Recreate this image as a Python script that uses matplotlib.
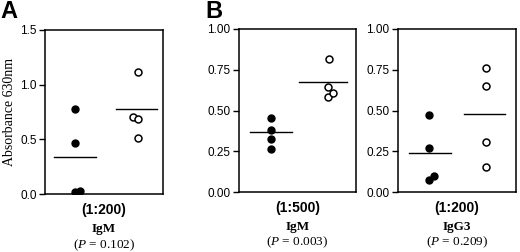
import matplotlib
matplotlib.use('Agg')
import matplotlib.pyplot as plt

# panel A: IgM 1:200
a_black_y = [0.774, 0.466, 0.015, 0.027]
a_black_x = [0.254, 0.254, 0.254, 0.297]
a_open_y = [1.12, 0.70, 0.686, 0.51]
a_open_x = [0.785, 0.743, 0.791, 0.788]
a_means = [0.338, 0.774]

# panel B left: IgM 1:500
b1_black_y = [0.454, 0.383, 0.327, 0.266]
b1_black_x = [0.27, 0.27, 0.27, 0.27]
b1_open_y = [0.816, 0.644, 0.585, 0.605]
b1_open_x = [0.767, 0.764, 0.764, 0.806]
b1_means = [0.366, 0.677]

# panel B right: IgG3 1:200
b2_black_y = [0.47, 0.27, 0.074, 0.098]
b2_black_x = [0.263, 0.263, 0.263, 0.308]
b2_open_y = [0.76, 0.648, 0.307, 0.151]
b2_open_x = [0.75, 0.75, 0.75, 0.75]
b2_means = [0.237, 0.476]

sans = 'Liberation Sans'
serif = 'Liberation Serif'

plt.rcParams['mathtext.fontset'] = 'custom'
plt.rcParams['mathtext.it'] = 'Liberation Serif:italic'
plt.rcParams['mathtext.rm'] = 'Liberation Serif'

fig = plt.figure(figsize=(5.2, 2.52), dpi=100)

def panel(rect, bx, by, ox, oy, means, mlines, ylim, yticks, ylabels,
          dil, ig, p):
    ax = fig.add_axes(rect)
    ax.plot(bx, by, 'o', color='black', ms=5, mec='black')
    ax.plot(ox, oy, 'o', color='white', ms=5, mec='black', mew=1.1)
    for m, (x0, x1) in zip(means, mlines):
        ax.plot([x0, x1], [m, m], color='black', lw=1)
    ax.set_xlim(0, 1)
    ax.set_ylim(*ylim)
    ax.set_xticks([])
    ax.set_yticks(yticks)
    ax.set_yticklabels(ylabels, fontfamily=sans, fontsize=8.5)
    ax.tick_params(axis='y', length=4, width=1, pad=2)
    for s in ax.spines.values():
        s.set_linewidth(1.1)
    ax.text(0.5, -0.1, dil, transform=ax.transAxes, ha='center', va='center',
            fontfamily=sans, fontweight='bold', fontsize=10)
    ax.text(0.5, -0.215, ig, transform=ax.transAxes, ha='center', va='center',
            fontfamily=serif, fontweight='bold', fontsize=9.5)
    ax.text(0.5, -0.31, r'($\mathit{P}$ = %s)' % p, transform=ax.transAxes,
            ha='center', va='center', fontfamily=serif, fontsize=9.5)
    return ax

axA = panel([0.0865, 0.230, 0.227, 0.651], a_black_x, a_black_y,
            a_open_x, a_open_y, a_means, [(0.076, 0.432), (0.60, 0.95)],
            (0, 1.5), [0, 0.5, 1.0, 1.5], ['0.0', '0.5', '1.0', '1.5'],
            '(1:200)', 'IgM', '0.102')
axA.set_ylabel('Absorbance 630nm', fontfamily=serif, fontsize=10, labelpad=3)

yt = [0, 0.25, 0.5, 0.75, 1.0]
yl = ['0.00', '0.25', '0.50', '0.75', '1.00']
panel([0.4596, 0.238, 0.225, 0.647], b1_black_x, b1_black_y,
      b1_open_x, b1_open_y, b1_means, [(0.094, 0.45), (0.515, 0.92)],
      (0, 1.0), yt, yl, '(1:500)', 'IgM', '0.003')
panel([0.765, 0.238, 0.227, 0.647], b2_black_x, b2_black_y,
      b2_open_x, b2_open_y, b2_means, [(0.096, 0.447), (0.56, 0.91)],
      (0, 1.0), yt, yl, '(1:200)', 'IgG3', '0.209')

fig.text(0.0, 0.955, 'A', fontfamily=sans, fontweight='bold', fontsize=17,
         va='center', ha='left')
fig.text(0.394, 0.955, 'B', fontfamily=sans, fontweight='bold', fontsize=17,
         va='center', ha='left')

fig.savefig('out.png', dpi=100)
